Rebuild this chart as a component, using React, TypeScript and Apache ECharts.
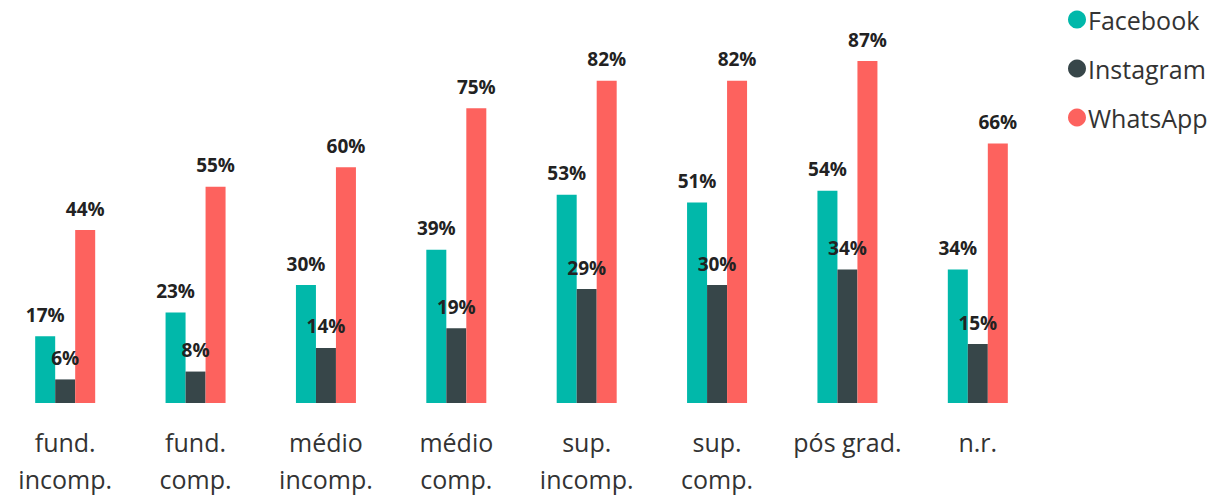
import React, { useEffect, useRef } from "react";
import * as echarts from "echarts";

const categories = [
  "fund.\nincomp.",
  "fund.\ncomp.",
  "médio\nincomp.",
  "médio\ncomp.",
  "sup.\nincomp.",
  "sup.\ncomp.",
  "pós grad.",
  "n.r.",
];
const facebook = [17, 23, 30, 39, 53, 51, 54, 34];
const instagram = [6, 8, 14, 19, 29, 30, 34, 15];
const whatsapp = [44, 55, 60, 75, 82, 82, 87, 66];

const seriesNames = ["Facebook", "Instagram", "WhatsApp"];
const colors = ["#01B8AA", "#374649", "#FD625E"];
const FONT = "'Open Sans', 'Noto Sans', sans-serif";

export default function App() {
  const ref = useRef<HTMLDivElement>(null);
  useEffect(() => {
    if (!ref.current) return;
    const chart = echarts.init(ref.current, null, { renderer: "svg" });
    const values = [facebook, instagram, whatsapp];
    chart.setOption({
      animation: false,
      textStyle: { fontFamily: FONT },
      legend: {
        orient: "vertical",
        left: 1063,
        top: 2,
        icon: "circle",
        itemWidth: 18,
        itemHeight: 18,
        itemGap: 24,
        textStyle: { fontSize: 25, color: "#333", fontFamily: FONT, padding: [0, 0, 0, -3] },
        data: seriesNames,
      },
      grid: { left: -4, width: 1047, top: 10, height: 393 },
      xAxis: {
        type: "category",
        data: categories,
        axisLine: { show: false },
        axisTick: { show: false },
        axisLabel: {
          fontSize: 25,
          lineHeight: 37,
          color: "#333",
          margin: 20,
          fontFamily: FONT,
          interval: 0,
        },
      },
      yAxis: {
        type: "value",
        min: 0,
        max: 100,
        show: false,
        splitLine: { show: false },
      },
      series: seriesNames.map((name, i) => ({
        name,
        type: "bar",
        data: values[i],
        barWidth: 20,
        barGap: "0%",
        itemStyle: { color: colors[i] },
        label: {
          show: true,
          position: "top",
          distance: 12,
          formatter: "{c}%",
          fontSize: 19,
          fontWeight: "bold",
          color: "#222",
          fontFamily: FONT,
        },
      })),
    });
    return () => chart.dispose();
  }, []);
  return (
    <div
      ref={ref}
      style={{ position: "absolute", left: 0, top: 0, width: 1232, height: 497 }}
    />
  );
}
